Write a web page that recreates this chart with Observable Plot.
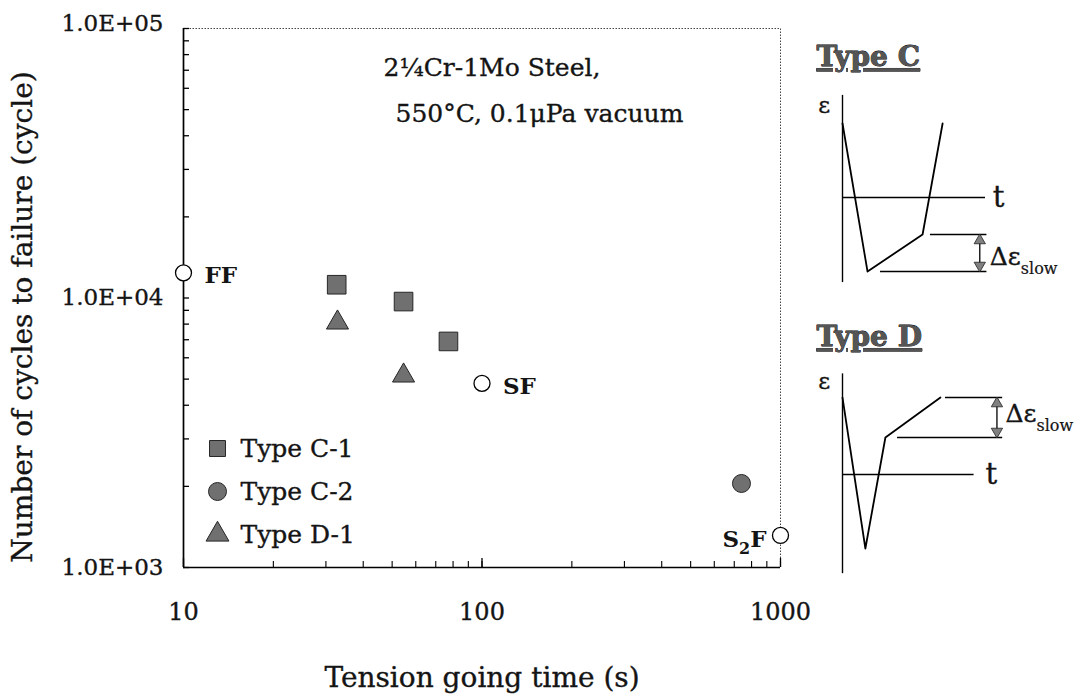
<!DOCTYPE html>
<html><head><meta charset="utf-8">
<script src="https://cdn.jsdelivr.net/npm/d3@7"></script>
<script src="https://cdn.jsdelivr.net/npm/@observablehq/plot@0.6"></script>
<style>
body{margin:0;background:#fff;}
#wrap{position:relative;width:1086px;height:696px;overflow:hidden;background:#fff;}
#wrap svg{position:absolute;overflow:visible;}
.uline text{text-decoration:underline;}
</style></head><body><div id="wrap"></div>
<script>
// ---------- data ----------
const seriesNames = ["Type C-1", "Type C-2", "Type D-1"];
const typeC1Time = [32.6, 54.6, 77.2];
const typeC1Cycles = [11200, 9700, 6900];
const typeC2Time = [740];
const typeC2Cycles = [2050];
const typeD1Time = [32.8, 54.6];
const typeD1Cycles = [8100, 5150];
const refLabels = ["FF", "SF", "S2F"];
const refTime = [10, 100, 1000];
const refCycles = [12400, 4820, 1315];
const yTickValues = [1000, 10000, 100000];
const yTickLabels = ["1.0E+03", "1.0E+04", "1.0E+05"];
const xTickValues = [10, 100, 1000];
const xTickLabels = ["10", "100", "1000"];
const xTitle = "Tension going time (s)";
const yTitle = "Number of cycles to failure (cycle)";
const noteLines = ["2¼Cr-1Mo Steel,", "550°C, 0.1μPa vacuum"];
// schematic waveforms (t, ε in arbitrary units)
const typeCWaveT = [0, 1.75, 5.6, 7.0];
const typeCWaveE = [1, -1, -0.5, 1];
const typeDWaveT = [0, 1.6, 3.0, 6.85];
const typeDWaveE = [1.04, -1.0, 0.5, 1.04];

// ---------- layout ----------
const F = "'DejaVu Serif', serif";
const W = 1086, H = 696, mL = 183, mR = 306, mT = 28, mB = 129;
const plotW = W - mL - mR, plotH = H - mT - mB;
const wrap = document.getElementById("wrap");
const gray = "#707070", edge = "#262626", ink = "#141414";
const thick = {fill: ink, stroke: ink, strokeWidth: 0.35, lineAnchor: "middle"};

const yMinor = d3.scaleLog().domain([1000, 100000]).ticks();
const xMinor = d3.scaleLog().domain([10, 1000]).ticks();

const rows = (ts, ns, name) => ts.map((t, i) => ({t, n: ns[i], name}));
const c1 = rows(typeC1Time, typeC1Cycles, seriesNames[0]);
const c2 = rows(typeC2Time, typeC2Cycles, seriesNames[1]);
const d1 = rows(typeD1Time, typeD1Cycles, seriesNames[2]);
const refs = refTime.map((t, i) => ({t, n: refCycles[i], label: refLabels[i]}));
const yTicks = yTickValues.map((v, i) => ({v, label: yTickLabels[i]}));

const main = Plot.plot({
  width: W, height: H,
  marginLeft: mL, marginRight: mR, marginTop: mT, marginBottom: mB,
  style: {fontFamily: F, background: "transparent", color: ink},
  x: {type: "log", domain: [10, 1000], axis: null},
  y: {type: "log", domain: [1000, 100000], axis: null},
  marks: [
    Plot.frame({stroke: "#444", strokeDasharray: "1.5,1.5", strokeWidth: 1}),
    Plot.tickY(yMinor, {insetRight: plotW - 6, stroke: "#000", strokeWidth: 1.3}),
    Plot.tickX(xMinor, {insetTop: plotH - 6, stroke: "#000", strokeWidth: 1.1}),
    Plot.tickX(xTickValues, {insetTop: plotH - 9, stroke: "#000", strokeWidth: 1.3}),
    Plot.ruleX([10], {stroke: "#000", strokeWidth: 1.7}),
    Plot.ruleY([1000], {stroke: "#000", strokeWidth: 1.7}),
    // tick labels
    Plot.text(yTicks.filter(d => d.v < 100000), {y: "v", text: "label", frameAnchor: "left", dx: -20, textAnchor: "end", fontSize: 23, ...thick}),
    Plot.text(yTicks.filter(d => d.v === 100000), {y: "v", text: "label", frameAnchor: "left", dx: -20, dy: -5, textAnchor: "end", fontSize: 23, ...thick}),
    Plot.text(xTickValues, {x: d => d, text: (d, i) => xTickLabels[i], frameAnchor: "bottom", dy: 45, fontSize: 24, ...thick}),
    // axis titles
    Plot.text([xTitle], {frameAnchor: "bottom", dy: 111, fontSize: 28, ...thick}),
    Plot.text([yTitle], {frameAnchor: "left", dx: -160, dy: 19, rotate: -90, textAnchor: "middle", fontSize: 28, ...thick}),
    // note
    Plot.text([noteLines[0]], {frameAnchor: "top-left", dx: 200, dy: 39, textAnchor: "start", fontSize: 25, ...thick}),
    Plot.text([noteLines[1]], {frameAnchor: "top-left", dx: 212, dy: 85, textAnchor: "start", fontSize: 25, ...thick}),
    // data
    Plot.dot(c1, {x: "t", y: "n", symbol: "square", r: 10.5, fill: gray, stroke: edge, strokeWidth: 1}),
    Plot.dot(c2, {x: "t", y: "n", symbol: "circle", r: 9, fill: gray, stroke: edge, strokeWidth: 1}),
    Plot.dot(d1, {x: "t", y: "n", symbol: "triangle", r: 8.2, fill: gray, stroke: edge, strokeWidth: 1}),
    Plot.dot(refs, {x: "t", y: "n", symbol: "circle", r: 8, fill: "white", stroke: "#000", strokeWidth: 1.3}),
    Plot.text(refs.filter(d => d.label !== "S2F"), {x: "t", y: "n", text: "label", dx: 21, dy: 3, textAnchor: "start", fontSize: 23, fontWeight: "bold", fill: ink}),
    Plot.text(refs.filter(d => d.label === "S2F"), {x: "t", y: "n", text: "label", dx: -14, dy: 4, textAnchor: "end", fontSize: 23, fontWeight: "bold", fill: ink})
  ]
});
main.style.left = "0px"; main.style.top = "0px";
wrap.appendChild(main);
d3.select(main).selectAll("text").filter(function() { return this.textContent === "S2F"; })
  .each(function() {
    const t = d3.select(this); t.text("");
    t.append("tspan").text("S");
    t.append("tspan").attr("dy", 7).attr("font-size", 16).text("2");
    t.append("tspan").attr("dy", -7).text("F");
  });

// ---------- legend ----------
const legend = Plot.plot({
  width: 200, height: 130, margin: 0,
  style: {fontFamily: F, background: "transparent"},
  x: {axis: null, domain: [0, 1]},
  y: {type: "point", domain: seriesNames, range: [22, 109], padding: 0, axis: null},
  symbol: {domain: seriesNames, range: ["square", "circle", "triangle"]},
  r: {type: "identity"},
  marks: [
    Plot.dot(seriesNames, {y: d => d, symbol: d => d, r: d => d === "Type D-1" ? 8.5 : 9, frameAnchor: "left", dx: 17, fill: gray, stroke: edge, strokeWidth: 1}),
    Plot.text(seriesNames, {y: d => d, text: d => d, frameAnchor: "left", dx: 40, textAnchor: "start", fontSize: 25, ...thick})
  ]
});
legend.style.left = "200px"; legend.style.top = "425px";
wrap.appendChild(legend);

// ---------- schematics ----------
function schematic(cfg) {
  const ppt = 14.3, ppe = 74, left = 810, w = 276, h = 270, t0 = 842;
  const wave = cfg.waveT.map((t, i) => ({t, e: cfg.waveE[i]}));
  const p = Plot.plot({
    width: w, height: h, margin: 0,
    style: {fontFamily: F, background: "transparent"},
    x: {axis: null, domain: [(left - t0) / ppt, (left + w - t0) / ppt], range: [0, w]},
    y: {axis: null, domain: [-(cfg.top + h - cfg.zero) / ppe, (cfg.zero - cfg.top) / ppe], range: [h, 0]},
    marks: [
      Plot.ruleX([0], {y1: cfg.axisLo, y2: cfg.axisHi, stroke: "#000", strokeWidth: 1.4}),
      Plot.ruleY([0], {x1: 0, x2: cfg.tEnd, stroke: "#000", strokeWidth: 1.4}),
      Plot.line(wave, {x: "t", y: "e", stroke: "#000", strokeWidth: 1.8}),
      Plot.ruleY(cfg.refs, {y: "e", x1: "a", x2: "b", stroke: "#000", strokeWidth: 1.5}),
      Plot.ruleX([cfg.arrowT], {y1: cfg.arrowHi, y2: cfg.arrowLo, stroke: "#000", strokeWidth: 1.3}),
      Plot.dot([cfg.arrowT], {x: d => d, y: () => cfg.arrowHi, symbol: "triangle", r: 4.2, dy: 6, fill: "#808080", stroke: "#222", strokeWidth: 0.8}),
      Plot.dot([cfg.arrowT], {x: d => d, y: () => cfg.arrowLo, symbol: "triangle", r: 4.2, dy: -6, rotate: 180, fill: "#808080", stroke: "#222", strokeWidth: 0.8}),
      Plot.text(["ε"], {x: () => -1.7, y: () => cfg.epsY, textAnchor: "start", fontSize: 23, ...thick}),
      Plot.text(["t"], {x: () => cfg.tLabelT, y: () => 0, textAnchor: "start", fontSize: 29, ...thick}),
      Plot.text(["Δε|slow"], {x: () => cfg.dT, y: () => cfg.dE, textAnchor: "start", fontSize: 25, ...thick})
    ]
  });
  p.style.left = left + "px"; p.style.top = cfg.top + "px";
  wrap.appendChild(p);
  d3.select(p).selectAll("text").filter(function() { return this.textContent === "Δε|slow"; })
    .each(function() {
      const t = d3.select(this); t.text("");
      t.append("tspan").text("Δε");
      t.append("tspan").attr("dy", 9).attr("font-size", 16).attr("stroke-width", 0.2).text("slow");
    });
  const title = Plot.plot({
    width: 160, height: 40, margin: 0,
    style: {fontFamily: F, background: "transparent"},
    x: {axis: null}, y: {axis: null},
    marks: [Plot.text([cfg.title], {frameAnchor: "left", className: "uline", textAnchor: "start", fontSize: 28, fontWeight: "bold", fill: "#555", stroke: "#000", strokeWidth: 0.8})]
  });
  title.style.left = "816px"; title.style.top = (cfg.titleY - 20) + "px";
  wrap.appendChild(title);
}

schematic({
  title: "Type C", titleY: 57, top: 30, zero: 197,
  waveT: typeCWaveT, waveE: typeCWaveE,
  axisLo: -1.15, axisHi: 1.38, tEnd: 10,
  refs: [{e: -0.5, a: 6.15, b: 10.1}, {e: -1, a: 2.66, b: 10.1}],
  arrowT: 9.6, arrowHi: -0.5, arrowLo: -1,
  epsY: 1.24, tLabelT: 10.5, dT: 10.3, dE: -0.8
});
schematic({
  title: "Type D", titleY: 337, top: 320, zero: 474,
  waveT: typeDWaveT, waveE: typeDWaveE,
  axisLo: -1.34, axisHi: 1.36, tEnd: 9.2,
  refs: [{e: 1.04, a: 7.2, b: 11.2}, {e: 0.5, a: 3.85, b: 11.2}],
  arrowT: 10.8, arrowHi: 1.04, arrowLo: 0.5,
  epsY: 1.26, tLabelT: 10.0, dT: 11.4, dE: 0.82
});
</script></body></html>
